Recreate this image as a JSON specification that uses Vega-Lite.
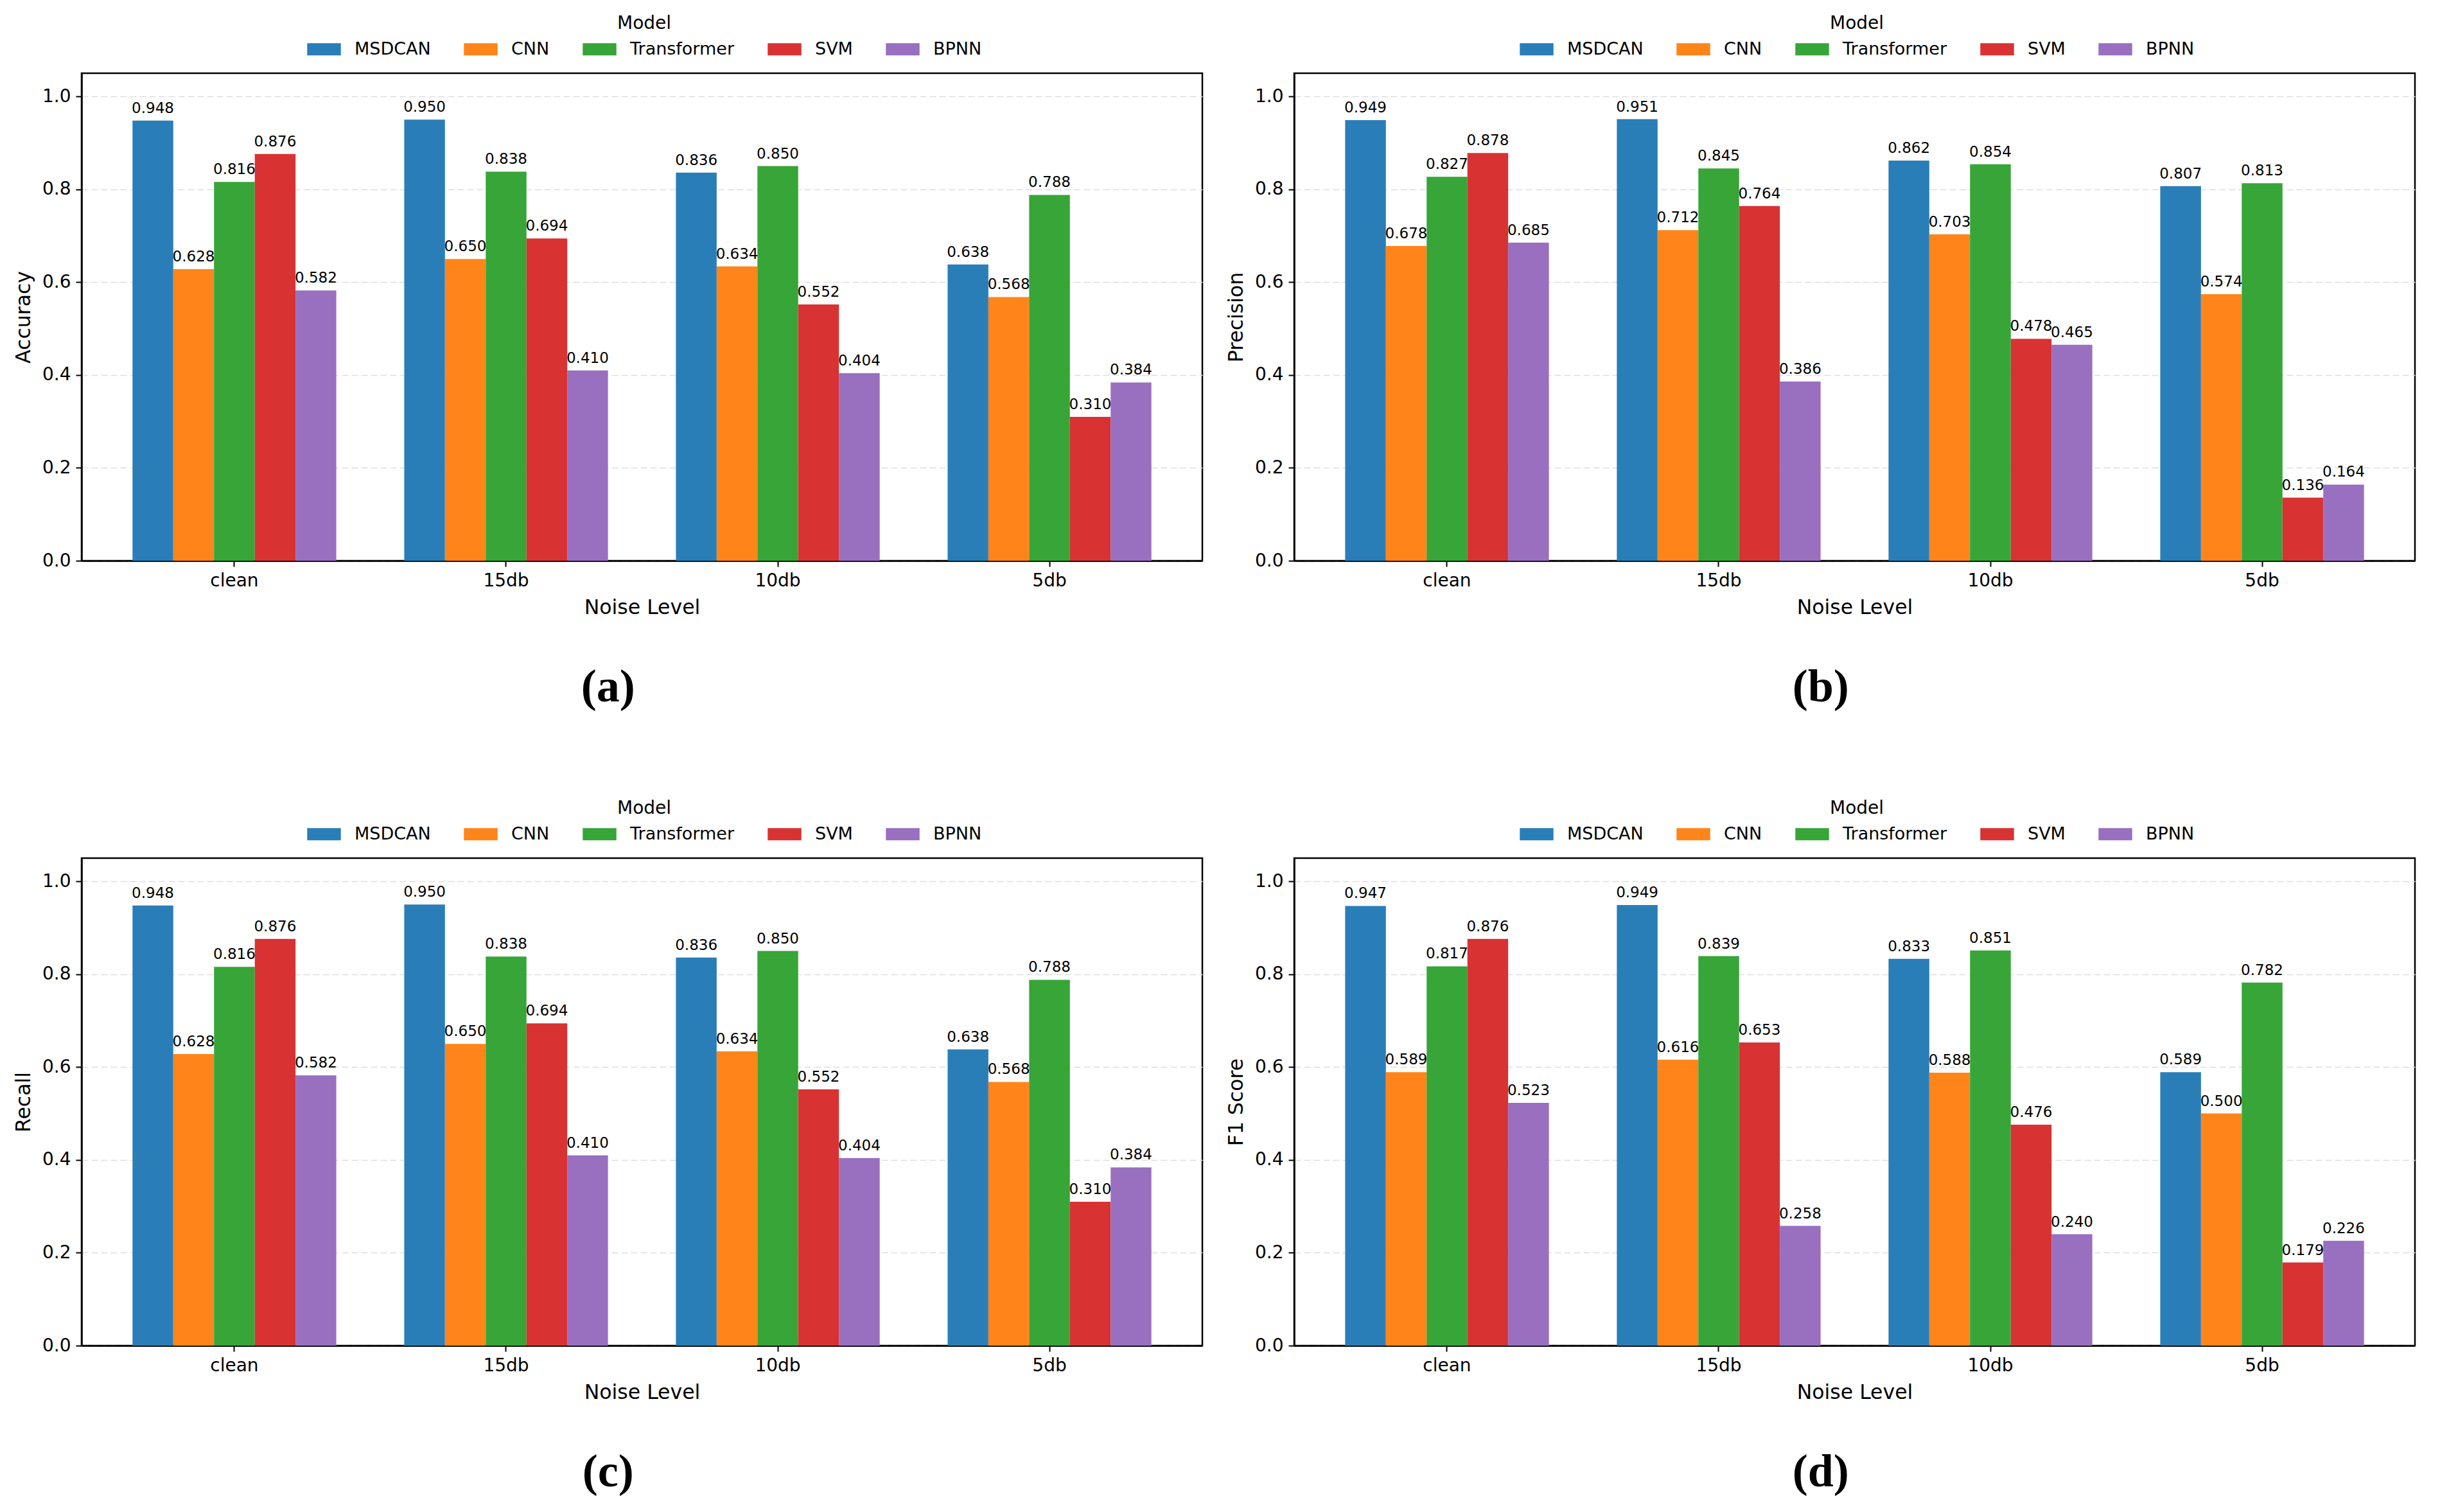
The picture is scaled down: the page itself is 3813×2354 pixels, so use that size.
{
  "$schema": "https://vega.github.io/schema/vega-lite/v6.json",
  "background": "white",
  "padding": {"left": 20, "top": 21, "right": 0, "bottom": 0},
  "datasets": {
    "scores": [
      {"metric": "Accuracy", "noise": "clean", "model": "MSDCAN", "value": 0.948},
      {"metric": "Accuracy", "noise": "clean", "model": "CNN", "value": 0.628},
      {"metric": "Accuracy", "noise": "clean", "model": "Transformer", "value": 0.816},
      {"metric": "Accuracy", "noise": "clean", "model": "SVM", "value": 0.876},
      {"metric": "Accuracy", "noise": "clean", "model": "BPNN", "value": 0.582},
      {"metric": "Accuracy", "noise": "15db", "model": "MSDCAN", "value": 0.950},
      {"metric": "Accuracy", "noise": "15db", "model": "CNN", "value": 0.650},
      {"metric": "Accuracy", "noise": "15db", "model": "Transformer", "value": 0.838},
      {"metric": "Accuracy", "noise": "15db", "model": "SVM", "value": 0.694},
      {"metric": "Accuracy", "noise": "15db", "model": "BPNN", "value": 0.410},
      {"metric": "Accuracy", "noise": "10db", "model": "MSDCAN", "value": 0.836},
      {"metric": "Accuracy", "noise": "10db", "model": "CNN", "value": 0.634},
      {"metric": "Accuracy", "noise": "10db", "model": "Transformer", "value": 0.850},
      {"metric": "Accuracy", "noise": "10db", "model": "SVM", "value": 0.552},
      {"metric": "Accuracy", "noise": "10db", "model": "BPNN", "value": 0.404},
      {"metric": "Accuracy", "noise": "5db", "model": "MSDCAN", "value": 0.638},
      {"metric": "Accuracy", "noise": "5db", "model": "CNN", "value": 0.568},
      {"metric": "Accuracy", "noise": "5db", "model": "Transformer", "value": 0.788},
      {"metric": "Accuracy", "noise": "5db", "model": "SVM", "value": 0.310},
      {"metric": "Accuracy", "noise": "5db", "model": "BPNN", "value": 0.384},
      {"metric": "Precision", "noise": "clean", "model": "MSDCAN", "value": 0.949},
      {"metric": "Precision", "noise": "clean", "model": "CNN", "value": 0.678},
      {"metric": "Precision", "noise": "clean", "model": "Transformer", "value": 0.827},
      {"metric": "Precision", "noise": "clean", "model": "SVM", "value": 0.878},
      {"metric": "Precision", "noise": "clean", "model": "BPNN", "value": 0.685},
      {"metric": "Precision", "noise": "15db", "model": "MSDCAN", "value": 0.951},
      {"metric": "Precision", "noise": "15db", "model": "CNN", "value": 0.712},
      {"metric": "Precision", "noise": "15db", "model": "Transformer", "value": 0.845},
      {"metric": "Precision", "noise": "15db", "model": "SVM", "value": 0.764},
      {"metric": "Precision", "noise": "15db", "model": "BPNN", "value": 0.386},
      {"metric": "Precision", "noise": "10db", "model": "MSDCAN", "value": 0.862},
      {"metric": "Precision", "noise": "10db", "model": "CNN", "value": 0.703},
      {"metric": "Precision", "noise": "10db", "model": "Transformer", "value": 0.854},
      {"metric": "Precision", "noise": "10db", "model": "SVM", "value": 0.478},
      {"metric": "Precision", "noise": "10db", "model": "BPNN", "value": 0.465},
      {"metric": "Precision", "noise": "5db", "model": "MSDCAN", "value": 0.807},
      {"metric": "Precision", "noise": "5db", "model": "CNN", "value": 0.574},
      {"metric": "Precision", "noise": "5db", "model": "Transformer", "value": 0.813},
      {"metric": "Precision", "noise": "5db", "model": "SVM", "value": 0.136},
      {"metric": "Precision", "noise": "5db", "model": "BPNN", "value": 0.164},
      {"metric": "Recall", "noise": "clean", "model": "MSDCAN", "value": 0.948},
      {"metric": "Recall", "noise": "clean", "model": "CNN", "value": 0.628},
      {"metric": "Recall", "noise": "clean", "model": "Transformer", "value": 0.816},
      {"metric": "Recall", "noise": "clean", "model": "SVM", "value": 0.876},
      {"metric": "Recall", "noise": "clean", "model": "BPNN", "value": 0.582},
      {"metric": "Recall", "noise": "15db", "model": "MSDCAN", "value": 0.950},
      {"metric": "Recall", "noise": "15db", "model": "CNN", "value": 0.650},
      {"metric": "Recall", "noise": "15db", "model": "Transformer", "value": 0.838},
      {"metric": "Recall", "noise": "15db", "model": "SVM", "value": 0.694},
      {"metric": "Recall", "noise": "15db", "model": "BPNN", "value": 0.410},
      {"metric": "Recall", "noise": "10db", "model": "MSDCAN", "value": 0.836},
      {"metric": "Recall", "noise": "10db", "model": "CNN", "value": 0.634},
      {"metric": "Recall", "noise": "10db", "model": "Transformer", "value": 0.850},
      {"metric": "Recall", "noise": "10db", "model": "SVM", "value": 0.552},
      {"metric": "Recall", "noise": "10db", "model": "BPNN", "value": 0.404},
      {"metric": "Recall", "noise": "5db", "model": "MSDCAN", "value": 0.638},
      {"metric": "Recall", "noise": "5db", "model": "CNN", "value": 0.568},
      {"metric": "Recall", "noise": "5db", "model": "Transformer", "value": 0.788},
      {"metric": "Recall", "noise": "5db", "model": "SVM", "value": 0.310},
      {"metric": "Recall", "noise": "5db", "model": "BPNN", "value": 0.384},
      {"metric": "F1 Score", "noise": "clean", "model": "MSDCAN", "value": 0.947},
      {"metric": "F1 Score", "noise": "clean", "model": "CNN", "value": 0.589},
      {"metric": "F1 Score", "noise": "clean", "model": "Transformer", "value": 0.817},
      {"metric": "F1 Score", "noise": "clean", "model": "SVM", "value": 0.876},
      {"metric": "F1 Score", "noise": "clean", "model": "BPNN", "value": 0.523},
      {"metric": "F1 Score", "noise": "15db", "model": "MSDCAN", "value": 0.949},
      {"metric": "F1 Score", "noise": "15db", "model": "CNN", "value": 0.616},
      {"metric": "F1 Score", "noise": "15db", "model": "Transformer", "value": 0.839},
      {"metric": "F1 Score", "noise": "15db", "model": "SVM", "value": 0.653},
      {"metric": "F1 Score", "noise": "15db", "model": "BPNN", "value": 0.258},
      {"metric": "F1 Score", "noise": "10db", "model": "MSDCAN", "value": 0.833},
      {"metric": "F1 Score", "noise": "10db", "model": "CNN", "value": 0.588},
      {"metric": "F1 Score", "noise": "10db", "model": "Transformer", "value": 0.851},
      {"metric": "F1 Score", "noise": "10db", "model": "SVM", "value": 0.476},
      {"metric": "F1 Score", "noise": "10db", "model": "BPNN", "value": 0.240},
      {"metric": "F1 Score", "noise": "5db", "model": "MSDCAN", "value": 0.589},
      {"metric": "F1 Score", "noise": "5db", "model": "CNN", "value": 0.500},
      {"metric": "F1 Score", "noise": "5db", "model": "Transformer", "value": 0.782},
      {"metric": "F1 Score", "noise": "5db", "model": "SVM", "value": 0.179},
      {"metric": "F1 Score", "noise": "5db", "model": "BPNN", "value": 0.226}
    ]
  },
  "columns": 2,
  "spacing": {"row": 136, "column": 34},
  "resolve": {"legend": {"color": "independent"}},
  "concat": [
    {
      "data": {"name": "scores"},
      "transform": [{"filter": "datum.metric === 'Accuracy'"}],
      "width": 1745,
      "height": 759,
      "title": {"text": "(a)"},
      "encoding": {
        "x": {"field": "noise", "type": "nominal", "sort": ["clean", "15db", "10db", "5db"], "scale": {"paddingInner": 0.25, "paddingOuter": 0.1875}, "axis": {"title": "Noise Level"}},
        "xOffset": {"field": "model", "type": "nominal", "sort": ["MSDCAN", "CNN", "Transformer", "SVM", "BPNN"]},
        "y": {"field": "value", "type": "quantitative", "scale": {"domain": [0, 1.05], "nice": false}, "axis": {"title": "Accuracy", "values": [0, 0.2, 0.4, 0.6, 0.8, 1.0], "format": ".1f"}}
      },
      "layer": [
        {"mark": "bar", "encoding": {"color": {"field": "model", "type": "nominal", "sort": ["MSDCAN", "CNN", "Transformer", "SVM", "BPNN"], "title": "Model"}}},
        {"mark": "text", "encoding": {"text": {"field": "value", "type": "quantitative", "format": ".3f"}}}
      ]
    },
    {
      "data": {"name": "scores"},
      "transform": [{"filter": "datum.metric === 'Precision'"}],
      "width": 1745,
      "height": 759,
      "title": {"text": "(b)"},
      "encoding": {
        "x": {"field": "noise", "type": "nominal", "sort": ["clean", "15db", "10db", "5db"], "scale": {"paddingInner": 0.25, "paddingOuter": 0.1875}, "axis": {"title": "Noise Level"}},
        "xOffset": {"field": "model", "type": "nominal", "sort": ["MSDCAN", "CNN", "Transformer", "SVM", "BPNN"]},
        "y": {"field": "value", "type": "quantitative", "scale": {"domain": [0, 1.05], "nice": false}, "axis": {"title": "Precision", "values": [0, 0.2, 0.4, 0.6, 0.8, 1.0], "format": ".1f"}}
      },
      "layer": [
        {"mark": "bar", "encoding": {"color": {"field": "model", "type": "nominal", "sort": ["MSDCAN", "CNN", "Transformer", "SVM", "BPNN"], "title": "Model"}}},
        {"mark": "text", "encoding": {"text": {"field": "value", "type": "quantitative", "format": ".3f"}}}
      ]
    },
    {
      "data": {"name": "scores"},
      "transform": [{"filter": "datum.metric === 'Recall'"}],
      "width": 1745,
      "height": 759,
      "title": {"text": "(c)"},
      "encoding": {
        "x": {"field": "noise", "type": "nominal", "sort": ["clean", "15db", "10db", "5db"], "scale": {"paddingInner": 0.25, "paddingOuter": 0.1875}, "axis": {"title": "Noise Level"}},
        "xOffset": {"field": "model", "type": "nominal", "sort": ["MSDCAN", "CNN", "Transformer", "SVM", "BPNN"]},
        "y": {"field": "value", "type": "quantitative", "scale": {"domain": [0, 1.05], "nice": false}, "axis": {"title": "Recall", "values": [0, 0.2, 0.4, 0.6, 0.8, 1.0], "format": ".1f"}}
      },
      "layer": [
        {"mark": "bar", "encoding": {"color": {"field": "model", "type": "nominal", "sort": ["MSDCAN", "CNN", "Transformer", "SVM", "BPNN"], "title": "Model"}}},
        {"mark": "text", "encoding": {"text": {"field": "value", "type": "quantitative", "format": ".3f"}}}
      ]
    },
    {
      "data": {"name": "scores"},
      "transform": [{"filter": "datum.metric === 'F1 Score'"}],
      "width": 1745,
      "height": 759,
      "title": {"text": "(d)"},
      "encoding": {
        "x": {"field": "noise", "type": "nominal", "sort": ["clean", "15db", "10db", "5db"], "scale": {"paddingInner": 0.25, "paddingOuter": 0.1875}, "axis": {"title": "Noise Level"}},
        "xOffset": {"field": "model", "type": "nominal", "sort": ["MSDCAN", "CNN", "Transformer", "SVM", "BPNN"]},
        "y": {"field": "value", "type": "quantitative", "scale": {"domain": [0, 1.05], "nice": false}, "axis": {"title": "F1 Score", "values": [0, 0.2, 0.4, 0.6, 0.8, 1.0], "format": ".1f"}}
      },
      "layer": [
        {"mark": "bar", "encoding": {"color": {"field": "model", "type": "nominal", "sort": ["MSDCAN", "CNN", "Transformer", "SVM", "BPNN"], "title": "Model"}}},
        {"mark": "text", "encoding": {"text": {"field": "value", "type": "quantitative", "format": ".3f"}}}
      ]
    }
  ],
  "config": {
    "font": "DejaVu Sans",
    "view": {"stroke": "black", "strokeWidth": 2.5},
    "bar": {"opacity": 1},
    "text": {"baseline": "alphabetic", "dy": -12, "fontSize": 23, "color": "black"},
    "range": {"category": ["#2a7eb8", "#ff851a", "#37a537", "#d83233", "#996fc0"]},
    "title": {"orient": "bottom", "anchor": "middle", "frame": "bounds", "font": "Liberation Serif", "fontSize": 72, "fontWeight": "bold", "color": "black", "offset": 73},
    "axis": {
      "domainColor": "black", "domainWidth": 2.5,
      "tickColor": "black", "tickWidth": 2, "tickSize": 9,
      "labelFont": "DejaVu Sans", "labelFontSize": 28, "labelColor": "black", "labelPadding": 8,
      "titleFont": "DejaVu Sans", "titleFontSize": 31.5, "titleFontWeight": "normal", "titleColor": "black", "titlePadding": 12,
      "gridColor": "#dedede", "gridDash": [10, 5], "gridWidth": 1.7
    },
    "axisX": {"grid": false, "labelAngle": 0},
    "axisY": {"grid": true},
    "legend": {
      "orient": "none", "legendX": 351, "legendY": -91, "direction": "horizontal", "columns": 5,
      "titleOrient": "top", "titleAnchor": "middle", "titleFont": "DejaVu Sans", "titleFontSize": 28, "titleFontWeight": "normal", "titleColor": "black", "titlePadding": -1,
      "labelFont": "DejaVu Sans", "labelFontSize": 27, "labelColor": "black", "labelOffset": 21, "labelLimit": 0,
      "symbolType": "M-1,-0.36H1V0.36H-1Z", "symbolSize": 2750, "symbolStrokeWidth": 0, "symbolOpacity": 1,
      "columnPadding": 51, "padding": 0
    }
  }
}
